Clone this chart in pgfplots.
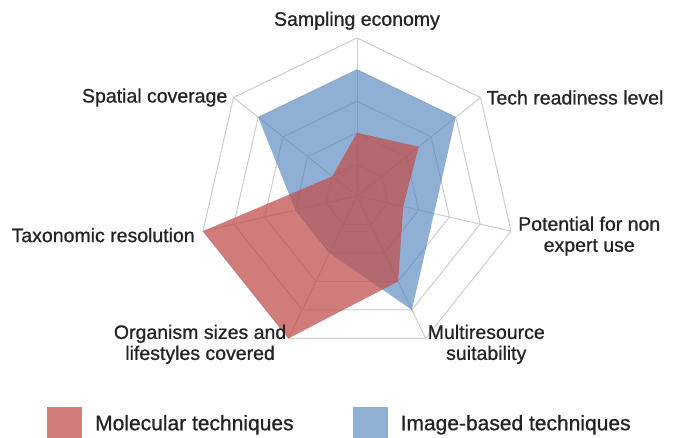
\documentclass[border=0pt]{standalone}
\usepackage{fontspec}
\setmainfont{Liberation Sans}[BoldFont=Liberation Sans, BoldFeatures={FakeBold=0.8}]
\usepackage{pgfplots}
\pgfplotsset{compat=1.18}
\usepgfplotslibrary{polar}
\definecolor{molred}{RGB}{192,80,77}
\definecolor{imgblue}{RGB}{79,129,189}
\definecolor{gridgray}{RGB}{205,205,205}
\definecolor{txt}{RGB}{35,35,35}
\begin{document}
\begin{tikzpicture}
\useasboundingbox (0,0) rectangle (676bp,438bp);
\begin{polaraxis}[
  at={(357bp,242bp)}, anchor=center,
  width=316bp, height=316bp, scale only axis,
  xmin=0, xmax=360, ymin=0, ymax=5,
  hide axis, clip=false,
  legend image code/.code={\path[#1] (0bp,-15bp) rectangle (35bp,16bp);},
  legend columns=2,
  legend style={at={(-0.481,-0.218)}, anchor=west, draw=none, fill=none,
    inner sep=0pt, font=\fontsize{21bp}{24bp}\selectfont\bfseries, text=txt,
    /tikz/every even column/.append style={column sep=59bp},
    nodes={inner sep=0pt, text=txt}},
  legend cell align=left,
]
% grid rings
\addplot[gridgray, line width=1bp, forget plot] coordinates {(90,1)(38.571,1)(347.143,1)(295.714,1)(244.286,1)(192.857,1)(141.429,1)(90,1)};
\addplot[gridgray, line width=1bp, forget plot] coordinates {(90,2)(38.571,2)(347.143,2)(295.714,2)(244.286,2)(192.857,2)(141.429,2)(90,2)};
\addplot[gridgray, line width=1bp, forget plot] coordinates {(90,3)(38.571,3)(347.143,3)(295.714,3)(244.286,3)(192.857,3)(141.429,3)(90,3)};
\addplot[gridgray, line width=1bp, forget plot] coordinates {(90,4)(38.571,4)(347.143,4)(295.714,4)(244.286,4)(192.857,4)(141.429,4)(90,4)};
\addplot[gridgray, line width=1bp, forget plot] coordinates {(90,5)(38.571,5)(347.143,5)(295.714,5)(244.286,5)(192.857,5)(141.429,5)(90,5)};
% spokes
\addplot[gridgray, line width=1bp, forget plot] coordinates {(90,0)(90,5)};
\addplot[gridgray, line width=1bp, forget plot] coordinates {(38.571,0)(38.571,5)};
\addplot[gridgray, line width=1bp, forget plot] coordinates {(347.143,0)(347.143,5)};
\addplot[gridgray, line width=1bp, forget plot] coordinates {(295.714,0)(295.714,5)};
\addplot[gridgray, line width=1bp, forget plot] coordinates {(244.286,0)(244.286,5)};
\addplot[gridgray, line width=1bp, forget plot] coordinates {(192.857,0)(192.857,5)};
\addplot[gridgray, line width=1bp, forget plot] coordinates {(141.429,0)(141.429,5)};
% Image-based techniques
\addplot[draw=none, fill=imgblue, fill opacity=0.63, forget plot] coordinates {(90,4)(38.571,4)(347.143,2.5)(295.714,4)(244.286,2)(192.857,2)(141.429,4)(90,4)};
% Molecular techniques
\addplot[draw=none, fill=molred, fill opacity=0.75, forget plot] coordinates {(90,2)(38.571,2.5)(347.143,1.5)(295.714,3)(244.286,5)(192.857,5)(141.429,1)(90,2)};
\addlegendimage{draw=none, fill=molred, fill opacity=0.75}
\addlegendentry{\hspace{13bp}Molecular techniques}
\addlegendimage{draw=none, fill=imgblue, fill opacity=0.63}
\addlegendentry{\hspace{13bp}Image-based techniques}
% labels
\begin{scope}[every node/.style={font=\fontsize{19.5bp}{21bp}\selectfont\bfseries, text=txt, inner sep=0pt, align=center}]
\node[anchor=south, yshift=8bp] at (axis cs:90,5) {Sampling economy};
\node[anchor=west, xshift=6bp] at (axis cs:38.571,5) {Tech readiness level};
\node[anchor=west, xshift=7bp, yshift=-5bp] at (axis cs:347.143,5) {Potential for non\\expert use};
\node[anchor=west, xshift=2bp, yshift=-6bp] at (axis cs:295.714,5) {Multiresource\\suitability};
\node[anchor=east, xshift=-2bp, yshift=-6bp] at (axis cs:244.286,5) {Organism sizes and\\lifestyles covered};
\node[anchor=east, xshift=-8bp, yshift=-4bp] at (axis cs:192.857,5) {Taxonomic resolution};
\node[anchor=east, xshift=-6bp] at (axis cs:141.429,5) {Spatial coverage};
\end{scope}
\end{polaraxis}
\end{tikzpicture}
\end{document}
